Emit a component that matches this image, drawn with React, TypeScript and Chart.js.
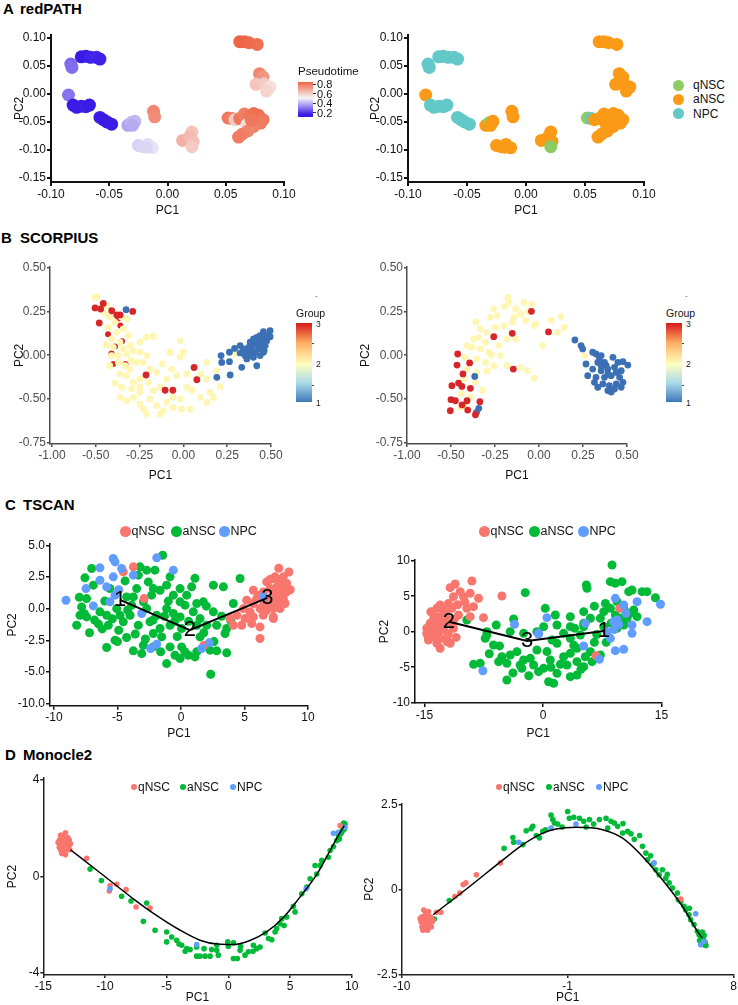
import React, { useEffect, useRef } from "react";
import { Chart, registerables } from "chart.js";
Chart.register(...registerables);

const FONT = "'Liberation Sans', Arial, Helvetica, sans-serif";

// ---------------- Panel A: redPATH ----------------
const A_PC1 = [
  -0.074, -0.070, -0.066, -0.061, -0.058,
  -0.083, -0.082,
  -0.085,
  -0.081, -0.078, -0.074, -0.070, -0.067,
  -0.058, -0.055, -0.052, -0.048,
  -0.034, -0.031, -0.028, -0.030,
  -0.025, -0.021, -0.017, -0.013, -0.018,
  -0.012, -0.011,
  0.013, 0.021, 0.019, 0.022, 0.021,
  0.062, 0.066, 0.070, 0.077,
  0.079, 0.082, 0.076, 0.083, 0.088, 0.085,
  0.052, 0.0555, 0.058, 0.062, 0.066, 0.070, 0.074, 0.078, 0.082, 0.080, 0.074, 0.068, 0.069, 0.064, 0.061, 0.072,
];
const A_PC2 = [
  0.066, 0.067, 0.065, 0.065, 0.062,
  0.053, 0.047,
  -0.002,
  -0.020, -0.024, -0.022, -0.023, -0.020,
  -0.042, -0.046, -0.050, -0.054,
  -0.056, -0.051, -0.049, -0.056,
  -0.092, -0.094, -0.090, -0.096, -0.095,
  -0.031, -0.041,
  -0.083, -0.068, -0.076, -0.085, -0.094,
  0.093, 0.093, 0.091, 0.088,
  0.036, 0.030, 0.017, 0.018, 0.012, 0.005,
  -0.043, -0.044, -0.046, -0.044, -0.036, -0.040, -0.035, -0.038, -0.046, -0.052, -0.058, -0.055, -0.066, -0.072, -0.077, -0.047,
];
const A_PSEUDO = [
  0.15, 0.15, 0.16, 0.17, 0.16,
  0.27, 0.28,
  0.29,
  0.15, 0.14, 0.15, 0.16, 0.15,
  0.14, 0.13, 0.14, 0.15,
  0.37, 0.39, 0.40, 0.38,
  0.44, 0.45, 0.46, 0.47, 0.45,
  0.76, 0.75,
  0.66, 0.62, 0.64, 0.63, 0.60,
  0.84, 0.84, 0.83, 0.82,
  0.76, 0.73, 0.62, 0.60, 0.55, 0.58,
  0.80, 0.78, 0.60, 0.80, 0.78, 0.80, 0.82, 0.82, 0.80, 0.79, 0.78, 0.56, 0.77, 0.78, 0.79, 0.80,
];
const A_GROUP = [
  "NPC", "NPC", "NPC", "NPC", "NPC",
  "NPC", "NPC",
  "aNSC",
  "NPC", "NPC", "NPC", "NPC", "NPC",
  "NPC", "NPC", "NPC", "NPC",
  "aNSC", "qNSC", "aNSC", "aNSC",
  "aNSC", "aNSC", "aNSC", "aNSC", "aNSC",
  "aNSC", "aNSC",
  "aNSC", "aNSC", "aNSC", "aNSC", "qNSC",
  "aNSC", "aNSC", "aNSC", "aNSC",
  "aNSC", "aNSC", "aNSC", "aNSC", "aNSC", "aNSC",
  "qNSC", "NPC", "aNSC", "aNSC", "aNSC", "aNSC", "aNSC", "aNSC", "aNSC", "aNSC", "aNSC", "aNSC", "aNSC", "aNSC", "aNSC", "aNSC",
];
const A_X_TICKS = [-0.1, -0.05, 0, 0.05, 0.1];
const A_X_LABELS = ["-0.10", "-0.05", "0.00", "0.05", "0.10"];
const A_Y_TICKS = [-0.15, -0.1, -0.05, 0, 0.05, 0.1];
const A_Y_LABELS = ["-0.15", "-0.10", "-0.05", "0.00", "0.05", "0.10"];
const A_LEGEND_TICKS = [0.8, 0.6, 0.4, 0.2];
const A_GROUP_COLORS: Record<string, string> = { qNSC: "#8dcc63", aNSC: "#fb9a16", NPC: "#62c8c8" };

// ---------------- Panel B: SCORPIUS ----------------
const B_X_TICKS = [-0.75, -0.5, -0.25, 0, 0.25, 0.5];
const B_X_LABELS = ["-1.00", "-0.50", "-0.25", "0.00", "0.25", "0.50"];
const B_Y_TICKS = [-0.5, -0.25, 0, 0.25, 0.5];
const B_Y_LABELS = ["-0.75", "-0.50", "0.00", "0.25", "0.50"];
const B_GROUP_TICKS = ["3", "2", "1"];

const B1_YELLOW = [
  [-0.495, 0.334], [-0.504, 0.33], [-0.438, 0.283], [-0.419, 0.217], [-0.39, 0.188], [-0.352, 0.217], [-0.32, 0.207],
  [-0.343, 0.15], [-0.314, 0.112], [-0.381, 0.131], [-0.409, 0.093], [-0.362, 0.074], [-0.4, 0.045], [-0.343, 0.036],
  [-0.305, 0.055], [-0.248, 0.074], [-0.213, 0.102], [-0.171, 0.106], [-0.409, -0.002], [-0.371, -0.002], [-0.324, 0.007],
  [-0.286, 0.026], [-0.248, 0.017], [-0.209, -0.002], [-0.371, -0.041], [-0.333, -0.06], [-0.362, -0.107], [-0.305, -0.079],
  [-0.267, -0.041], [-0.229, -0.041], [-0.19, -0.079], [-0.152, -0.098], [-0.248, -0.136], [-0.286, -0.155], [-0.324, -0.117],
  [-0.352, -0.183], [-0.295, -0.193], [-0.248, -0.183], [-0.2, -0.155], [-0.133, -0.183], [-0.076, 0.017], [0.0, 0.017],
  [-0.019, -0.012], [-0.067, -0.079], [-0.038, -0.117], [0.019, -0.107], [0.076, -0.136], [0.133, -0.136], [0.152, -0.212],
  [0.019, -0.183], [-0.095, -0.136], [-0.171, -0.202], [-0.248, -0.212], [-0.361, -0.241], [-0.323, -0.26], [-0.285, -0.241],
  [-0.247, -0.279], [-0.228, -0.307], [-0.19, -0.25], [-0.152, -0.288], [-0.114, -0.317], [-0.133, -0.336], [-0.095, -0.269],
  [-0.057, -0.298], [-0.018, -0.25], [-0.009, -0.307], [0.039, -0.307], [0.096, -0.241], [0.134, -0.269], [0.172, -0.241],
  [-0.209, -0.336], [-0.171, 0.111], [-0.018, 0.083], [-0.076, 0.016], [0.134, -0.041], [0.096, -0.108], [0.191, -0.089],
  [-0.45, 0.24], [-0.43, 0.16], [-0.44, 0.06], [-0.42, -0.06], [-0.39, -0.16], [-0.3, -0.03], [-0.12, -0.05],
  [0.05, -0.2], [-0.06, -0.24], [0.21, -0.18], [0.3, 0.01],
];
const B1_RED_UNDER = [
  [-0.43, 0.12], [-0.39, 0.05], [-0.36, 0.17], [-0.4, -0.05], [-0.33, -0.05], [-0.35, 0.08], [-0.41, 0.01], [-0.37, 0.21],
];
const B1_RED = [
  [-0.504, 0.27], [-0.472, 0.264], [-0.457, 0.296], [-0.409, 0.254], [-0.38, 0.23], [-0.361, 0.23], [-0.289, 0.25],
  [-0.48, 0.184], [-0.213, -0.113], [0.061, -0.07], [0.077, -0.14], [-0.104, -0.2], [-0.06, -0.2],
];
const B1_BLUE = [
  [-0.327, 0.26], [0.191, -0.126], [0.219, -0.041], [0.215, -0.002], [0.263, -0.037], [0.263, 0.017], [0.292, 0.039],
  [0.324, 0.055], [0.324, 0.013], [0.333, -0.069], [0.362, -0.021], [0.267, -0.113], [0.381, -0.002], [0.391, 0.026],
  [0.396, 0.055], [0.41, 0.083], [0.419, 0.102], [0.438, 0.112], [0.457, 0.135], [0.476, 0.112], [0.495, 0.106],
  [0.448, 0.074], [0.429, 0.036], [0.457, 0.017], [0.419, -0.06], [0.4, -0.012], [0.362, 0.017], [0.372, 0.045],
  [0.419, 0.064], [0.4, 0.093], [0.438, 0.055], [0.467, 0.055], [0.41, 0.017], [0.438, -0.002], [0.343, 0.036],
  [0.429, 0.093], [0.453, 0.093], [0.476, 0.083], [0.381, 0.074], [0.352, -0.002], [0.495, 0.14], [0.461, 0.026],
];

const B2_YELLOW = [
  [-0.177, 0.331], [-0.196, 0.278], [-0.085, 0.302], [-0.041, 0.293], [-0.133, 0.264], [-0.104, 0.236], [-0.142, 0.217],
  [-0.076, 0.198], [-0.019, 0.179], [0.124, 0.222], [0.143, 0.159], [0.105, 0.131], [0.02, 0.055], [-0.028, 0.169],
  [-0.2, 0.169], [-0.238, 0.226], [-0.276, 0.217], [-0.247, 0.159], [-0.295, 0.131], [-0.333, 0.15], [-0.342, 0.102],
  [-0.304, 0.074], [-0.371, 0.093], [-0.381, 0.045], [-0.333, 0.036], [-0.285, 0.017], [-0.228, 0.055], [-0.181, 0.093],
  [-0.133, 0.093], [-0.219, -0.002], [-0.419, -0.012], [-0.352, -0.021], [-0.304, -0.041], [-0.257, -0.06], [-0.409, -0.079],
  [-0.352, -0.098], [-0.295, -0.088], [-0.428, -0.136], [-0.361, -0.155], [-0.181, -0.06], [-0.104, -0.069], [-0.066, -0.088],
  [-0.028, -0.131], [0.258, -0.002], [-0.409, 0.055], [-0.171, 0.302], [-0.257, 0.264], [-0.447, -0.298], [-0.418, -0.288],
  [-0.44, -0.22], [-0.39, -0.24], [-0.32, -0.2], [-0.27, 0.0], [-0.15, 0.19], [-0.06, 0.25], [0.07, 0.2], [-0.36, 0.19],
];
const B2_RED = [
  [-0.043, 0.251], [-0.152, 0.125], [0.054, 0.133], [-0.257, 0.106], [-0.462, 0.007], [-0.466, -0.056], [-0.394, -0.044],
  [-0.146, -0.079], [-0.432, -0.107], [-0.495, -0.174], [-0.457, -0.159], [-0.438, -0.178], [-0.39, -0.189],
  [-0.5, -0.254], [-0.475, -0.26], [-0.409, -0.26], [-0.437, -0.284], [-0.504, -0.317], [-0.405, -0.313], [-0.361, -0.34],
  [-0.336, -0.265],
];
const B2_BLUE = [
  [-0.355, -0.326], [-0.342, -0.303], [-0.365, -0.121],
  [0.204, 0.087], [0.239, 0.055], [0.248, 0.036], [0.305, 0.017], [0.324, 0.007], [0.353, -0.002], [0.267, -0.05],
  [0.334, -0.041], [0.372, -0.041], [0.42, -0.012], [0.448, -0.041], [0.477, -0.037], [0.505, -0.056], [0.305, -0.079],
  [0.353, -0.088], [0.391, -0.079], [0.429, -0.069], [0.467, -0.088], [0.277, -0.117], [0.324, -0.126], [0.372, -0.126],
  [0.41, -0.117], [0.458, -0.126], [0.315, -0.155], [0.363, -0.164], [0.4, -0.174], [0.439, -0.164], [0.477, -0.155],
  [0.391, -0.202], [0.429, -0.193], [0.353, -0.06], [0.391, -0.107], [0.343, -0.021], [0.439, -0.098], [0.467, -0.183],
  [0.334, -0.183], [0.41, -0.21], [0.382, -0.06],
];

// ---------------- Panel C: TSCAN ----------------
const C1_X_TICKS = [-10, -5, 0, 5, 10];
const C1_X_LABELS = ["-10", "-5", "0", "5", "10"];
const C1_Y_TICKS = [-7.5, -5, -2.5, 0, 2.5, 5];
const C1_Y_LABELS = ["-10.0", "-5.0", "-2.5", "0.0", "2.5", "5.0"];
const C1_QNSC = [
  [7.27, 2.39], [7.8, 2.12], [7.53, 1.73], [8.06, 1.73], [8.32, 1.99], [6.75, 2.12], [7.01, 1.59], [6.48, 1.33],
  [7.27, 1.2], [7.93, 1.33], [8.32, 1.33], [6.22, 1.07], [5.7, 1.46], [5.96, 0.8], [6.75, 0.8], [7.53, 0.8], [8.06, 0.8],
  [5.17, 0.67], [5.7, 0.41], [6.48, 0.28], [7.01, 0.41], [7.67, 0.41], [8.19, 0.41], [4.91, 0.01], [5.44, -0.25],
  [6.22, 0.01], [6.75, -0.12], [7.27, 0.01], [7.8, 0.01], [4.39, -0.52], [5.04, -0.78], [5.7, -0.65], [6.48, -0.52],
  [7.27, -0.65], [4.12, -1.31], [4.78, -1.31], [5.57, -1.17], [6.22, -1.44], [7.27, -0.78], [3.86, -0.78], [7.4, 2.52],
  [8.06, 2.52], [7.0, 2.3], [8.5, 2.9], [7.7, 3.2], [8.6, 1.5], [-3.75, 3.31], [-4.54, 2.91], [-2.91, 0.8], [1.81, -2.89],
  [6.22, -2.36],
];
const C1_ANSC = [
  [-7.03, 3.18], [-7.56, 2.44], [-6.9, 1.86], [-7.82, 0.14], [-8.21, -1.31], [-7.95, -0.52], [-7.43, -0.65], [-6.38, -0.25],
  [-5.85, -0.52], [-5.72, -1.31], [-5.06, 0.01], [-4.8, -0.52], [-4.54, -1.04], [-4.01, -0.52], [-4.28, 0.93], [-3.75, 0.93],
  [-3.49, 1.59], [-3.36, 2.65], [-3.23, 3.31], [-2.7, 3.05], [-2.05, 3.05], [-1.44, 4.23], [-2.57, 2.12], [-2.18, 1.59],
  [-1.65, 1.46], [-0.86, 2.52], [-1.13, 1.86], [-0.6, 1.07], [-0.07, 1.59], [0.45, 1.07], [0.84, 1.73], [0.32, 0.28],
  [1.24, 0.41], [1.76, 0.54], [2.55, 1.86], [3.34, 1.73], [4.65, 2.39], [4.12, 0.41], [2.55, -0.25], [2.02, -1.31],
  [1.5, -0.78], [-0.6, -0.38], [-1.13, 0.01], [-1.91, -0.52], [-2.7, 0.01], [-2.44, -1.04], [-1.65, -1.57], [-0.86, -1.31],
  [-0.07, -0.65], [0.05, -1.57], [0.97, -0.25], [1.24, -1.31], [2.81, -1.31], [3.6, -1.57], [-3.36, -1.31], [-2.96, 0.54],
  [-3.88, 0.28], [-7.43, 0.8], [-2.31, 1.07], [-0.07, 0.54], [-5.85, -3.07], [-5.19, -2.49], [-4.28, -2.28], [-3.75, -3.33],
  [-2.96, -2.89], [-3.09, -3.55], [-2.18, -1.96], [-1.52, -2.23], [-1.13, -4.34], [-0.86, -3.02], [-0.47, -3.68],
  [-0.07, -3.94], [0.05, -3.02], [0.58, -3.68], [1.1, -3.81], [1.24, -3.41], [1.5, -2.23], [2.29, -3.28], [2.81, -3.33],
  [3.6, -3.49], [2.34, -5.18], [3.47, -1.96], [-2.18, -3.02], [-6.8, -0.9], [-6.2, -1.6], [-5.4, -0.8], [-4.9, -1.7],
  [-4.2, -0.1], [-3.6, -2.0], [-2.2, -0.9], [-1.3, -0.6], [-0.3, -2.2], [0.6, -1.0], [1.8, -1.9], [2.6, -2.6], [3.2, -0.6],
  [-6.0, 0.6], [-7.2, -1.9], [-8.0, 0.9], [-5.6, 1.6], [-4.4, 2.2], [-1.0, 0.6], [1.1, 2.4], [2.0, 0.2], [-2.8, -2.4],
  [0.3, -3.4], [-7.6, -0.4], [-6.5, -1.2], [-5.0, -2.6], [-1.6, -3.4], [-0.5, -1.0], [3.9, -0.9],
];
const C1_NPC = [
  [-9.05, 0.67], [-6.9, 0.22], [-7.48, 1.59], [-6.38, 3.23], [-5.33, 3.97], [-5.19, 3.7], [-4.67, 3.18], [-3.75, 2.65],
  [-6.38, 2.25], [-5.85, 1.73], [-5.33, 2.52], [-5.59, 0.54], [-5.19, 1.07], [-3.09, -0.38], [-1.91, 4.02], [-0.6, 3.05],
  [-2.39, -3.15], [-1.91, -2.81], [1.63, -3.15], [2.23, -2.7], [-4.9, 1.5], [6.5, 0.95],
];
const C1_NODE_X = [-4.8, 0.7, 6.8];
const C1_NODE_Y = [0.7, -1.7, 0.85];
const C1_NODE_LABELS = ["1", "2", "3"];

const C2_X_TICKS = [-15, 0, 15];
const C2_X_LABELS = ["-15", "0", "15"];
const C2_Y_TICKS = [-10, -5, 0, 5, 10];
const C2_Y_LABELS = ["-10", "-5", "0", "5", "10"];
const C2_QNSC = [
  [-9.0, 7.14], [-11.75, 6.2], [-11.12, 6.72], [-10.48, 5.64], [-11.33, 4.94], [-10.06, 4.94], [-9.21, 5.41], [-8.16, 4.7],
  [-11.96, 3.99], [-13.02, 3.76], [-13.44, 3.29], [-12.6, 3.06], [-11.54, 3.29], [-9.64, 3.29], [-8.79, 3.53],
  [-10.69, 2.35], [-9.21, 2.12], [-7.53, 1.98], [-13.86, 2.35], [-13.02, 2.12], [-12.17, 1.89], [-14.29, 1.18],
  [-13.44, 0.95], [-12.81, 1.42], [-11.33, 0.48], [-14.71, 0.48], [-13.86, 0.01], [-12.81, 0.24], [-5.2, 5.03],
  [9.71, 3.29], [-14.71, -0.23], [-13.86, -0.7], [-13.02, -0.93], [-12.17, -1.4], [-14.5, -1.17], [-13.44, -1.64],
  [-13.02, -2.34], [-11.75, -1.64], [6.71, -3.38], [-14.0, 0.5], [-12.5, 0.9], [-13.2, 1.6], [-14.6, -0.5], [-12.0, -0.3],
  [-11.8, 1.2], [-13.5, -0.3], [-12.3, 2.6], [-14.2, 2.8], [-11.2, 1.8], [-10.8, 3.8], [-9.9, 4.2], [-11.0, -0.8],
  [-12.6, 0.3], [-13.9, 1.6], [-12.2, -0.9],
];
const C2_ANSC = [
  [-2.24, 5.5], [-5.92, 0.94], [-3.72, 1.79], [0.29, 3.29], [1.56, 2.35], [3.46, 2.12], [5.15, 0.71], [5.57, 6.11],
  [5.49, 6.58], [8.74, 9.4], [8.53, 7.05], [9.16, 6.81], [10.0, 7.05], [10.85, 5.64], [11.27, 5.87], [12.54, 5.64],
  [13.17, 5.64], [14.23, 4.79], [7.9, 3.99], [8.53, 3.29], [10.22, 3.29], [11.49, 3.06], [11.91, 2.12], [10.64, 1.89],
  [9.16, 2.35], [7.69, 2.82], [7.26, 1.89], [6.0, 1.89], [5.15, 2.82], [5.15, 1.18], [7.69, 0.71], [10.22, 0.94],
  [9.37, 0.48], [3.46, 0.71], [1.77, 0.94], [0.08, 0.71], [-9.64, 1.65], [-7.1, -0.46], [-4.15, 0.01], [9.37, 4.23],
  [-8.79, -4.6], [-7.95, -4.45], [-7.31, -0.93], [-6.26, -1.87], [-5.62, -4.22], [-5.2, -3.52], [-4.57, -4.45],
  [-4.57, -6.8], [-4.15, -3.28], [-3.3, -2.81], [-2.67, -5.16], [-2.46, -3.99], [-1.61, -3.75], [-1.19, -4.69],
  [-0.77, -2.58], [-0.56, -5.63], [0.08, -5.16], [0.71, -7.04], [1.35, -7.27], [0.92, -3.99], [1.77, -1.64],
  [1.77, -5.86], [2.61, -3.52], [3.03, -4.69], [3.46, -3.05], [3.46, -6.33], [4.3, -4.22], [4.3, -6.1], [5.15, -4.92],
  [5.36, -3.52], [5.99, -2.81], [6.21, -4.22], [7.26, -3.28], [4.3, -2.34], [3.46, -0.93], [-2.46, -0.23], [1.14, -1.17],
  [-7.1, 0.01], [-0.77, 0.01], [4.73, -0.46], [2.61, -0.23], [-5.5, -2.0], [-3.8, -5.8], [-1.8, -6.2], [2.2, -4.6],
  [4.8, -5.3], [6.5, -1.5], [0.5, -2.8], [-2.9, -4.7], [3.9, -1.9], [1.0, -5.0], [8.0, -1.5], [9.8, 1.9], [11.0, 2.6],
  [6.5, 3.6], [4.0, 0.5], [-6.8, -3.1], [6.8, -0.4], [8.6, 1.2],
];
const C2_NPC = [
  [-3.6, 1.04], [0.5, 1.98], [-0.56, -0.23], [5.36, 1.18], [9.16, 4.7], [10.22, 3.76], [9.37, 1.65], [8.95, 1.42],
  [11.27, 0.94], [11.91, 4.23], [13.17, 1.42], [14.87, 3.86], [8.11, 0.01], [-7.61, -5.49], [-0.56, -0.32], [5.15, -2.01],
  [9.16, -2.67], [10.22, -2.48], [7.13, -3.89], [8.53, -0.93], [11.27, -0.23], [9.6, 1.0], [10.5, 2.6], [9.0, 0.3],
];
const C2_NODE_X = [-11.9, -2.0, 7.7];
const C2_NODE_Y = [1.4, -1.3, 0.1];
const C2_NODE_LABELS = ["2", "3", "1"];

// ---------------- Panel D: Monocle2 ----------------
const D1_X_TICKS = [-15, -10, -5, 0, 5, 10];
const D1_X_LABELS = ["-15", "-10", "-5", "0", "5", "10"];
const D1_Y_TICKS = [-4, 0, 4];
const D1_Y_LABELS = ["-4", "0", "4"];
const D1_QNSC = [
  [-13.7, 1.5], [-13.6, 1.3], [-13.5, 1.7], [-13.4, 1.2], [-13.3, 1.5], [-13.2, 1.4], [-13.1, 1.1], [-13.0, 1.6],
  [-12.9, 1.3], [-13.6, 1.1], [-13.4, 1.6], [-13.2, 1.8], [-13.0, 1.2], [-12.9, 1.5], [-13.5, 1.4], [-13.3, 1.0],
  [-13.1, 1.6], [-13.7, 1.2], [-13.5, 0.95], [-13.2, 0.9], [-12.8, 1.35], [-13.8, 1.4], [-13.4, 1.45], [-13.0, 1.4],
  [-13.3, 1.25], [-12.85, 1.1], [-13.55, 1.55], [-13.15, 1.2], [-13.6, 1.7], [-13.2, 1.55],
  [-11.48, 0.75], [-9.65, -0.61], [-9.59, -0.38], [-9.05, -0.33], [-8.29, -0.55], [-7.48, -1.27], [-6.35, -1.31], [9.06, 2.1],
];
const D1_ANSC = [
  [-11.21, 0.3], [-10.29, -0.17], [-8.65, -0.82], [-7.89, -1.02], [-6.62, -1.1], [-6.89, -1.86], [-5.94, -2.23],
  [-5.0, -2.3], [-4.59, -2.51], [-4.19, -2.64], [-3.78, -2.85], [-3.38, -2.99], [-3.1, -3.03], [-2.57, -3.3], [-2.3, -3.3],
  [-1.89, -3.3], [-1.48, -3.3], [-1.97, -2.99], [-1.35, -3.03], [-0.94, -3.06], [-0.94, -2.85], [-0.81, -3.26],
  [-0.05, -2.71], [0.0, -2.89], [0.41, -3.4], [0.73, -3.4], [0.95, -3.06], [1.35, -3.26], [1.62, -3.12], [2.03, -2.85],
  [2.3, -2.99], [2.57, -2.92], [2.98, -2.34], [3.25, -2.57], [3.52, -2.62], [3.79, -2.3], [3.92, -2.16], [4.19, -1.96],
  [4.33, -1.75], [4.52, -2.03], [4.73, -1.68], [5.27, -1.24], [5.41, -1.47], [5.95, -0.72], [6.36, -0.44], [6.63, -0.1],
  [7.17, 0.1], [7.44, 0.45], [7.57, 0.66], [7.03, 0.45], [8.11, 0.79], [8.25, 1.07], [8.52, 1.23], [8.79, 1.48],
  [8.92, 1.69], [9.19, 1.82], [9.33, 2.03], [9.46, 2.17], [9.25, 1.9], [9.0, 1.55], [9.4, 1.95], [-5.0, -2.71],
  [-2.57, -2.92], [0.41, -2.75], [-4.0, -2.8], [-3.5, -3.1], [1.0, -2.9], [2.0, -3.1], [9.1, 1.75], [9.35, 2.2],
];
const D1_NPC = [
  [-9.59, -0.51], [-2.57, -2.82], [6.3, -0.51], [8.52, 1.78], [8.92, 1.82], [9.46, 2.03],
];
const D1_CURVE_X = [-12.8, -10.4, -7.7, -6.1, -3.9, -2.3, -0.9, 0.4, 1.8, 3.1, 4.5, 5.8, 7.2, 8.25, 9.06, 9.4];
const D1_CURVE_Y = [1.1, 0.15, -0.93, -1.52, -2.23, -2.64, -2.8, -2.82, -2.64, -2.3, -1.68, -0.86, 0.1, 1.07, 1.82, 2.1];

const D2_X_TICKS = [-10, -1, 8];
const D2_X_LABELS = ["-10", "-1", "8"];
const D2_Y_TICKS = [-2.5, 0, 2.5];
const D2_Y_LABELS = ["-2.5", "0", "2.5"];
const D2_QNSC = [
  [-8.9, -0.8], [-8.8, -1.0], [-8.7, -0.7], [-8.6, -0.9], [-8.5, -1.05], [-8.9, -1.1], [-8.75, -0.85], [-8.65, -1.15],
  [-8.45, -0.8], [-8.35, -0.95], [-8.95, -0.95], [-8.55, -0.65], [-8.8, -0.6], [-8.4, -1.1], [-8.7, -1.0], [-8.6, -0.75],
  [-8.85, -1.2], [-8.5, -0.9], [-9.0, -0.85], [-8.7, -0.9], [-8.3, -0.9], [-8.6, -1.2],
  [-8.11, -0.67], [-7.87, -0.67], [-7.12, -0.2], [-6.85, -0.1], [-6.67, 0.15], [-6.52, 0.2], [-5.95, 0.44], [-4.65, 0.79],
  [5.13, -0.28],
];
const D2_ANSC = [
  [-8.23, -0.87], [-7.42, -0.32], [-4.45, 1.22], [-3.97, 1.54], [-3.93, 1.4], [-3.25, 1.74], [-2.98, 1.8], [-2.89, 1.87],
  [-2.53, 1.53], [-2.35, 1.72], [-2.2, 1.77], [-1.9, 2.2], [-1.81, 2.07], [-1.72, 1.97], [-1.54, 1.94], [-1.0, 2.31],
  [-0.91, 2.11], [-0.67, 2.14], [-0.36, 2.11], [-0.13, 2.02], [0.18, 2.07], [0.41, 1.94], [0.72, 2.07], [1.08, 2.11],
  [1.17, 1.82], [1.35, 2.02], [1.53, 1.97], [1.71, 1.87], [1.98, 1.67], [2.25, 1.72], [2.43, 1.65], [2.61, 1.49],
  [3.06, 1.28], [3.24, 1.08], [3.33, 0.88], [3.6, 0.74], [3.78, 0.59], [3.96, 0.44], [4.14, 0.59], [4.32, 0.34],
  [4.5, 0.2], [4.68, 0.05], [4.95, -0.1], [5.13, -0.35], [5.31, -0.49], [5.4, -0.59], [5.58, -0.74], [5.67, -0.89],
  [5.85, -1.03], [6.03, -1.23], [6.12, -1.33], [6.21, -1.43], [6.3, -1.53], [6.39, -1.63], [6.2, -1.3], [6.35, -1.45],
  [6.45, -1.55], [6.3, -1.25], [6.15, -1.5], [6.4, -1.35], [6.5, -1.65], [6.25, -1.6], [-3.43, 1.33], [-2.7, 1.6],
  [-1.3, 1.85], [0.0, 1.85], [2.0, 1.95], [2.9, 1.6], [3.5, 1.0], [4.4, 0.45], [5.0, -0.3], [5.6, -0.55],
];
const D2_NPC = [
  [-3.66, 1.4], [-1.9, 1.82], [-0.55, 1.94], [3.69, 0.79], [5.94, -0.71], [6.21, -1.63], [6.39, -1.53],
];
const D2_CURVE_X = [-8.29, -6.3, -4.51, -3.43, -2.35, -1.63, -0.55, 0.9, 1.98, 3.06, 4.14, 5.22, 6.03, 6.3];
const D2_CURVE_Y = [-0.74, 0.1, 0.88, 1.33, 1.67, 1.79, 1.84, 1.77, 1.52, 0.98, 0.29, -0.49, -1.23, -1.43];

const GROUPS = ["qNSC", "aNSC", "NPC"];
const GG_COLORS: Record<string, string> = { qNSC: "#f8766d", aNSC: "#00ba38", NPC: "#619cff" };
const B_RED = "#d7262a";
const B_YELLOW = "#fff6b3";
const B_BLUE = "#3b70b4";

// ---------------- helpers ----------------
const PT_LOW = [58, 28, 230];
const PT_MID = [247, 245, 248];
const PT_HIGH = [238, 98, 66];
function mix(a: number[], b: number[], t: number) {
  return a.map((v, i) => Math.round(v + (b[i] - v) * t));
}
function ptColor(v: number) {
  let c: number[];
  if (v <= 0.5) c = mix(PT_LOW, PT_MID, Math.max(0, (v - 0.15) / 0.35));
  else c = mix(PT_MID, PT_HIGH, Math.min(1, (v - 0.5) / 0.35));
  return `rgb(${c[0]},${c[1]},${c[2]})`;
}
const toXY = (arr: number[][]) => arr.map((p) => ({ x: p[0], y: p[1] }));
const zipXY = (xs: number[], ys: number[]) => xs.map((x, i) => ({ x, y: ys[i] }));

function pts(data: any[], color: any, r: number, order: number) {
  return {
    data,
    backgroundColor: color,
    borderColor: "rgba(0,0,0,0)",
    pointRadius: r,
    pointHoverRadius: r,
    pointBorderWidth: 0,
    showLine: false,
    clip: false,
    order,
  };
}
function curve(data: any[], width: number, smooth: boolean) {
  return {
    data,
    showLine: true,
    borderColor: "#000",
    borderWidth: width,
    pointRadius: 0,
    pointHoverRadius: 0,
    tension: smooth ? 0.4 : 0,
    cubicInterpolationMode: smooth ? "monotone" : "default",
    fill: false,
    clip: false,
    order: 0,
  };
}

const nodePlugin = {
  id: "nodeLabels",
  afterDatasetsDraw(chart: any, _args: any, opts: any) {
    if (!opts || !opts.xs) return;
    const ctx = chart.ctx;
    ctx.save();
    ctx.font = `${opts.size}px ${FONT}`;
    ctx.fillStyle = "#000";
    ctx.textAlign = "center";
    ctx.textBaseline = "middle";
    opts.xs.forEach((x: number, i: number) => {
      ctx.fillText(opts.labels[i], chart.scales.x.getPixelForValue(x), chart.scales.y.getPixelForValue(opts.ys[i]));
    });
    ctx.restore();
  },
};

interface PanelDef {
  box: { x: number; y: number; w: number; h: number };
  area: { l: number; t: number; r: number; b: number };
  xr: [number, number];
  yr: [number, number];
  xTicks: number[];
  xLabels: string[];
  yTicks: number[];
  yLabels: string[];
  yTitleX: number;
  xTitleY: number;
  axisColor: string;
  axisWidth: number;
  labelColor: string;
  tickLen: number;
  datasets: any[];
  nodes?: any;
}

function buildConfig(p: PanelDef) {
  const { box, area } = p;
  const yW = area.l - box.x;
  const xH = box.y + box.h - area.b;
  const lh = 12 * 1.2;
  const font = { family: FONT, size: 12 };
  const common = (ticks: number[], labels: string[], pad: number) => ({
    type: "linear",
    bounds: "data",
    afterBuildTicks: (s: any) => {
      s.ticks = ticks.map((v) => ({ value: v }));
    },
    ticks: {
      autoSkip: false,
      maxRotation: 0,
      minRotation: 0,
      padding: pad,
      color: p.labelColor,
      font,
      callback: (_v: any, i: number) => labels[i],
    },
    grid: {
      display: true,
      drawOnChartArea: false,
      drawTicks: true,
      tickLength: p.tickLen,
      color: p.axisColor,
      tickColor: p.axisColor,
      tickWidth: p.axisWidth,
      lineWidth: p.axisWidth,
    },
    border: { display: true, color: p.axisColor, width: p.axisWidth },
  });
  return {
    type: "scatter",
    data: { datasets: p.datasets },
    plugins: [nodePlugin],
    options: {
      responsive: false,
      animation: false,
      devicePixelRatio: 1,
      events: [],
      layout: {
        autoPadding: false,
        padding: { left: 0, top: area.t - box.y, right: box.x + box.w - area.r, bottom: 0 },
      },
      plugins: {
        legend: { display: false },
        tooltip: { enabled: false },
        nodeLabels: p.nodes || {},
      },
      scales: {
        x: {
          ...common(p.xTicks, p.xLabels, 1),
          position: "bottom",
          min: p.xr[0],
          max: p.xr[1],
          afterFit: (s: any) => {
            s.height = xH;
          },
          title: {
            display: true,
            text: "PC1",
            color: "#111",
            font,
            padding: { top: 0, bottom: Math.max(0, box.y + box.h - p.xTitleY - lh / 2) },
          },
        },
        y: {
          ...common(p.yTicks, p.yLabels, 1),
          position: "left",
          min: p.yr[0],
          max: p.yr[1],
          afterFit: (s: any) => {
            s.width = yW;
          },
          title: {
            display: true,
            text: "PC2",
            color: "#111",
            font,
            padding: { top: Math.max(0, p.yTitleX - box.x - lh / 2), bottom: 0 },
          },
        },
      },
    },
  };
}

function Panel({ def }: { def: PanelDef }) {
  const ref = useRef<HTMLCanvasElement | null>(null);
  useEffect(() => {
    const chart = new Chart(ref.current as HTMLCanvasElement, buildConfig(def) as any);
    return () => chart.destroy();
  }, []);
  return (
    <canvas
      ref={ref}
      width={def.box.w}
      height={def.box.h}
      style={{ position: "absolute", left: def.box.x, top: def.box.y, width: def.box.w, height: def.box.h }}
    />
  );
}

function Txt({ x, y, size, bold, color, anchor, children }: any) {
  const tx = anchor === "middle" ? "-50%" : anchor === "end" ? "-100%" : "0";
  return (
    <div
      style={{
        position: "absolute",
        left: x,
        top: y,
        transform: `translate(${tx}, -50%)`,
        fontFamily: FONT,
        fontSize: size,
        fontWeight: bold ? 700 : 400,
        color: color || "#000",
        lineHeight: 1,
        whiteSpace: "nowrap",
      }}
    >
      {children}
    </div>
  );
}
function Dot({ x, y, r, color }: any) {
  return (
    <div style={{ position: "absolute", left: x - r, top: y - r, width: 2 * r, height: 2 * r, borderRadius: "50%", background: color }} />
  );
}
function Rect({ x, y, w, h, bg }: any) {
  return <div style={{ position: "absolute", left: x, top: y, width: w, height: h, background: bg }} />;
}

function GroupLegend({ xs, y, r, size }: any) {
  return (
    <>
      {GROUPS.map((g, i) => (
        <React.Fragment key={g}>
          <Dot x={xs[i]} y={y} r={r} color={GG_COLORS[g]} />
          <Txt x={xs[i] + r + 1} y={y} size={size} color="#111">{g}</Txt>
        </React.Fragment>
      ))}
    </>
  );
}

function GroupBar({ x }: { x: number }) {
  const ys = [324, 364, 403];
  return (
    <>
      <Txt x={x + 19} y={296} size={8} color="#555">-</Txt>
      <Txt x={x} y={313} size={10.5} color="#111">Group</Txt>
      <Rect x={x} y={323} w={16} h={79} bg="linear-gradient(to bottom, #d7191c 0%, #fdae61 25%, #ffffbf 52%, #abd9e9 76%, #3a78b8 100%)" />
      {[343, 385].map((yy) => (
        <Rect key={yy} x={x + 16} y={yy - 0.5} w={2} h={1} bg="#444" />
      ))}
      {B_GROUP_TICKS.map((t, i) => (
        <Txt key={t} x={x + 20} y={ys[i]} size={8.5} color="#222">{t}</Txt>
      ))}
    </>
  );
}

const AY = { yr: [-0.157, 0.105] as [number, number] };

export default function App() {
  const aData = zipXY(A_PC1, A_PC2);
  const panels: PanelDef[] = [
    {
      box: { x: 0, y: 25, w: 300, h: 200 },
      area: { l: 51, t: 34.9, r: 284, b: 182 },
      xr: [-0.1, 0.1], yr: AY.yr,
      xTicks: A_X_TICKS, xLabels: A_X_LABELS, yTicks: A_Y_TICKS, yLabels: A_Y_LABELS,
      yTitleX: 20, xTitleY: 211, axisColor: "#111", axisWidth: 2, labelColor: "#111", tickLen: 4,
      datasets: [pts(aData, A_PSEUDO.map(ptColor), 6.5, 1)],
    },
    {
      box: { x: 360, y: 25, w: 300, h: 200 },
      area: { l: 408, t: 34.9, r: 644, b: 182 },
      xr: [-0.1, 0.1], yr: AY.yr,
      xTicks: A_X_TICKS, xLabels: A_X_LABELS, yTicks: A_Y_TICKS, yLabels: A_Y_LABELS,
      yTitleX: 376, xTitleY: 211, axisColor: "#111", axisWidth: 2, labelColor: "#111", tickLen: 4,
      datasets: [pts(aData, A_GROUP.map((g) => A_GROUP_COLORS[g]), 6.5, 1)],
    },
    {
      box: { x: 0, y: 255, w: 300, h: 230 },
      area: { l: 50, t: 266.8, r: 271, b: 444 },
      xr: [-0.761, 0.5], yr: [-0.507, 0.505],
      xTicks: B_X_TICKS, xLabels: B_X_LABELS, yTicks: B_Y_TICKS, yLabels: B_Y_LABELS,
      yTitleX: 20, xTitleY: 476, axisColor: "#4d4d4d", axisWidth: 1.5, labelColor: "#4d4d4d", tickLen: 3,
      datasets: [
        pts(toXY(B1_RED), B_RED, 3.4, 1),
        pts(toXY(B1_BLUE), B_BLUE, 3.4, 2),
        pts(toXY(B1_YELLOW), B_YELLOW, 3.4, 3),
        pts(toXY(B1_RED_UNDER), B_RED, 3.0, 4),
      ],
    },
    {
      box: { x: 350, y: 255, w: 300, h: 230 },
      area: { l: 407, t: 266.8, r: 627, b: 444 },
      xr: [-0.75, 0.5], yr: [-0.507, 0.505],
      xTicks: B_X_TICKS, xLabels: B_X_LABELS, yTicks: B_Y_TICKS, yLabels: B_Y_LABELS,
      yTitleX: 366, xTitleY: 476, axisColor: "#4d4d4d", axisWidth: 1.5, labelColor: "#4d4d4d", tickLen: 3,
      datasets: [
        pts(toXY(B2_RED), B_RED, 3.4, 1),
        pts(toXY(B2_BLUE), B_BLUE, 3.4, 2),
        pts(toXY(B2_YELLOW), B_YELLOW, 3.4, 3),
      ],
    },
    {
      box: { x: 0, y: 535, w: 330, h: 210 },
      area: { l: 50, t: 544.2, r: 308, b: 705.7 },
      xr: [-10.31, 10], yr: [-7.67, 5.1],
      xTicks: C1_X_TICKS, xLabels: C1_X_LABELS, yTicks: C1_Y_TICKS, yLabels: C1_Y_LABELS,
      yTitleX: 13, xTitleY: 734, axisColor: "#111", axisWidth: 1.5, labelColor: "#111", tickLen: 4,
      datasets: [
        curve(zipXY(C1_NODE_X, C1_NODE_Y), 2, false),
        pts(toXY(C1_NPC), GG_COLORS.NPC, 4.5, 1),
        pts(toXY(C1_QNSC), GG_COLORS.qNSC, 4.5, 2),
        pts(toXY(C1_ANSC), GG_COLORS.aNSC, 4.5, 3),
      ],
      nodes: { xs: C1_NODE_X, ys: C1_NODE_Y, labels: C1_NODE_LABELS, size: 22 },
    },
    {
      box: { x: 370, y: 535, w: 320, h: 210 },
      area: { l: 415, t: 560, r: 661.5, b: 703 },
      xr: [-16.2, 15], yr: [-10.04, 10.1],
      xTicks: C2_X_TICKS, xLabels: C2_X_LABELS, yTicks: C2_Y_TICKS, yLabels: C2_Y_LABELS,
      yTitleX: 385, xTitleY: 734, axisColor: "#111", axisWidth: 1.5, labelColor: "#111", tickLen: 4,
      datasets: [
        curve(zipXY(C2_NODE_X, C2_NODE_Y), 2, false),
        pts(toXY(C2_NPC), GG_COLORS.NPC, 4.5, 1),
        pts(toXY(C2_QNSC), GG_COLORS.qNSC, 4.5, 2),
        pts(toXY(C2_ANSC), GG_COLORS.aNSC, 4.5, 3),
      ],
      nodes: { xs: C2_NODE_X, ys: C2_NODE_Y, labels: C2_NODE_LABELS, size: 22 },
    },
    {
      box: { x: 0, y: 770, w: 370, h: 235 },
      area: { l: 43.3, t: 777.5, r: 351.7, b: 975 },
      xr: [-15, 10], yr: [-4.08, 4.06],
      xTicks: D1_X_TICKS, xLabels: D1_X_LABELS, yTicks: D1_Y_TICKS, yLabels: D1_Y_LABELS,
      yTitleX: 13, xTitleY: 999, axisColor: "#222", axisWidth: 1.5, labelColor: "#111", tickLen: 3,
      datasets: [
        curve(zipXY(D1_CURVE_X, D1_CURVE_Y), 1.5, true),
        pts(toXY(D1_NPC), GG_COLORS.NPC, 2.8, 1),
        pts(toXY(D1_QNSC), GG_COLORS.qNSC, 2.8, 2),
        pts(toXY(D1_ANSC), GG_COLORS.aNSC, 2.8, 3),
      ],
    },
    {
      box: { x: 360, y: 770, w: 378, h: 235 },
      area: { l: 401.7, t: 803.3, r: 734.3, b: 975 },
      xr: [-10, 8], yr: [-2.52, 2.55],
      xTicks: D2_X_TICKS, xLabels: D2_X_LABELS, yTicks: D2_Y_TICKS, yLabels: D2_Y_LABELS,
      yTitleX: 370, xTitleY: 999, axisColor: "#222", axisWidth: 1.5, labelColor: "#111", tickLen: 3,
      datasets: [
        curve(zipXY(D2_CURVE_X, D2_CURVE_Y), 1.5, true),
        pts(toXY(D2_NPC), GG_COLORS.NPC, 2.8, 1),
        pts(toXY(D2_QNSC), GG_COLORS.qNSC, 2.8, 2),
        pts(toXY(D2_ANSC), GG_COLORS.aNSC, 2.8, 3),
      ],
    },
  ];

  const ptGrad = `linear-gradient(to bottom, ${ptColor(0.84)} 0%, ${ptColor(0.5)} 46%, ${ptColor(0.15)} 93%, ${ptColor(0.1)} 100%)`;
  const aLegendY = [84, 93.5, 103, 112.5];

  return (
    <div style={{ position: "absolute", left: 0, top: 0, width: 738, height: 1005, background: "#fff", overflow: "hidden" }}>
      {panels.map((p, i) => (
        <Panel key={i} def={p} />
      ))}

      {/* panel titles */}
      <Txt x={3} y={8} size={15} bold>A</Txt>
      <Txt x={20} y={8} size={15} bold>redPATH</Txt>
      <Txt x={1} y={237} size={15} bold>B</Txt>
      <Txt x={20} y={237} size={15} bold>SCORPIUS</Txt>
      <Txt x={5} y={504} size={15} bold>C</Txt>
      <Txt x={23} y={504} size={15} bold>TSCAN</Txt>
      <Txt x={5} y={754} size={15} bold>D</Txt>
      <Txt x={23} y={754} size={15} bold>Monocle2</Txt>

      {/* A: pseudotime colour bar */}
      <Txt x={298} y={72} size={11.5} color="#111">Pseudotime</Txt>
      <Rect x={298} y={82} w={15} h={35} bg={ptGrad} />
      {A_LEGEND_TICKS.map((t, i) => (
        <React.Fragment key={t}>
          <Rect x={313} y={aLegendY[i] - 0.5} w={3} h={1} bg="#333" />
          <Txt x={317} y={aLegendY[i]} size={11} color="#111">{t.toFixed(1)}</Txt>
        </React.Fragment>
      ))}

      {/* A right: group legend */}
      {GROUPS.map((g, i) => (
        <React.Fragment key={g}>
          <Dot x={678} y={85 + i * 14.3} r={5.5} color={A_GROUP_COLORS[g]} />
          <Txt x={693} y={85 + i * 14.3} size={12} color="#111">{g}</Txt>
        </React.Fragment>
      ))}

      {/* B colour bars */}
      <GroupBar x={296} />
      <GroupBar x={666} />

      {/* C legends */}
      <GroupLegend xs={[125, 176, 224]} y={531} r={5.5} size={12.5} />
      <GroupLegend xs={[484, 534, 583]} y={531} r={5.5} size={12.5} />

      {/* D legends */}
      <GroupLegend xs={[134, 183, 233]} y={787} r={3} size={12} />
      <GroupLegend xs={[499, 549, 599]} y={787} r={3} size={12} />
    </div>
  );
}
